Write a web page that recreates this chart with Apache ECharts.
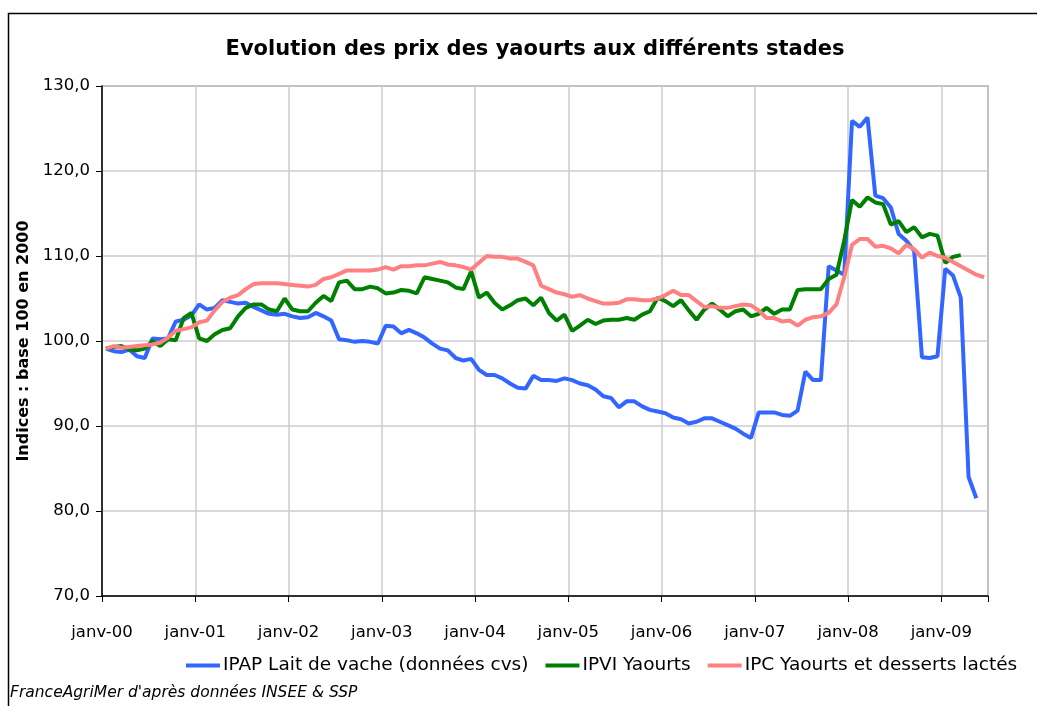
<!DOCTYPE html>
<html>
<head>
<meta charset="utf-8">
<script src="https://cdn.jsdelivr.net/npm/echarts@6/dist/echarts.min.js"></script>
<style>
  html, body { margin: 0; padding: 0; background: #fff; }
  #chart { width: 1037px; height: 706px; }
</style>
</head>
<body>
<div id="chart"></div>
<script>
// séries mensuelles, janv-00 = mois 0
var ipap = [99.1, 98.8, 98.7, 99.0, 98.2, 98.0, 100.3, 100.2, 100.3, 102.3, 102.5, 103.0,
  104.3, 103.7, 103.9, 104.8, 104.6, 104.4, 104.5, 104.0, 103.6, 103.2, 103.1, 103.2,
  102.9, 102.7, 102.8, 103.3, 102.9, 102.4, 100.2, 100.1, 99.9, 100.0, 99.9, 99.7,
  101.8, 101.7, 100.9, 101.3, 100.9, 100.4, 99.7, 99.1, 98.9, 98.0, 97.7, 97.9,
  96.6, 96.0, 96.0, 95.6, 95.0, 94.5, 94.4, 95.9, 95.4, 95.4, 95.3, 95.6,
  95.4, 95.0, 94.8, 94.3, 93.5, 93.3, 92.2, 92.9, 92.9, 92.3, 91.9, 91.7,
  91.5, 91.0, 90.8, 90.3, 90.5, 90.9, 90.9, 90.5, 90.1, 89.7, 89.1, 88.6,
  91.6, 91.6, 91.6, 91.3, 91.2, 91.8, 96.4, 95.4, 95.4, 108.8, 108.3, 107.8,
  125.9, 125.2, 126.3, 117.1, 116.8, 115.7, 112.6, 111.8, 110.6, 98.1, 98.0, 98.2,
  108.5, 107.7, 105.1, 84.0, 81.5];

var ipvi = [99.1, 99.3, 99.4, 99.0, 98.9, 99.1, 100.0, 99.4, 100.2, 100.1, 102.7, 103.3,
  100.3, 100.0, 100.8, 101.3, 101.5, 102.9, 103.9, 104.3, 104.3, 103.7, 103.5, 105.0,
  103.7, 103.5, 103.5, 104.5, 105.3, 104.7, 106.9, 107.1, 106.1, 106.1, 106.4, 106.2,
  105.6, 105.7, 106.0, 105.9, 105.6, 107.5, 107.3, 107.1, 106.9, 106.3, 106.1, 108.2,
  105.1, 105.7, 104.5, 103.7, 104.2, 104.8, 105.0, 104.2, 105.1, 103.3, 102.4, 103.1,
  101.2, 101.8, 102.5, 102.0, 102.4, 102.5, 102.5, 102.7, 102.5, 103.1, 103.5, 105.1,
  104.7, 104.1, 104.8, 103.6, 102.5, 103.7, 104.4, 103.7, 102.9, 103.5, 103.7, 102.9,
  103.2, 103.9, 103.2, 103.7, 103.7, 106.0, 106.1, 106.1, 106.1, 107.3, 107.8, 111.8,
  116.6, 115.8, 116.9, 116.3, 116.1, 113.7, 114.1, 112.8, 113.4, 112.2, 112.6, 112.4,
  109.2, 109.9, 110.1];

var ipc = [99.1, 99.4, 99.2, 99.3, 99.4, 99.5, 99.6, 99.8, 100.4, 101.2, 101.4, 101.6,
  102.2, 102.4, 103.6, 104.6, 105.1, 105.4, 106.1, 106.7, 106.8, 106.8, 106.8, 106.7,
  106.6, 106.5, 106.4, 106.6, 107.3, 107.5, 107.9, 108.3, 108.3, 108.3, 108.3, 108.4,
  108.7, 108.4, 108.8, 108.8, 108.9, 108.9, 109.1, 109.3, 109.0, 108.9, 108.7, 108.4,
  109.2, 110.0, 109.9, 109.9, 109.7, 109.7, 109.3, 108.9, 106.5, 106.1, 105.7, 105.5,
  105.2, 105.4, 105.0, 104.7, 104.4, 104.4, 104.5, 104.9, 104.9, 104.8, 104.8, 105.0,
  105.4, 105.9, 105.4, 105.4, 104.7, 104.0, 104.1, 103.9, 103.9, 104.1, 104.3, 104.2,
  103.6, 102.7, 102.7, 102.3, 102.4, 101.8, 102.5, 102.8, 102.9, 103.3, 104.3, 107.5,
  111.3, 112.0, 112.0, 111.1, 111.2, 110.9, 110.3, 111.3, 110.8, 109.8, 110.4, 110.0,
  109.8, 109.3, 108.8, 108.3, 107.8, 107.5];

var yearLabels = ['janv-00', 'janv-01', 'janv-02', 'janv-03', 'janv-04',
  'janv-05', 'janv-06', 'janv-07', 'janv-08', 'janv-09'];

// points au milieu du mois
function toPoints(arr) {
  return arr.map(function (v, i) { return [i + 0.5, v]; });
}

var chart = echarts.init(document.getElementById('chart'));
var font = '"DejaVu Sans", "Liberation Sans", Arial, sans-serif';

chart.setOption({
  animation: false,
  textStyle: { fontFamily: font },
  title: {
    text: 'Evolution des prix des yaourts aux différents stades',
    left: 530,
    top: 34,
    textAlign: 'center',
    textStyle: { fontFamily: font, fontSize: 21, fontWeight: 'bold', color: '#000' }
  },
  grid: {
    left: 102, right: 49, top: 86, bottom: 110,
    show: true, borderColor: '#888', borderWidth: 1.5
  },
  legend: {
    left: 181,
    top: 651,
    icon: 'rect',
    itemWidth: 34,
    itemHeight: 4,
    itemGap: 17,
    textStyle: { fontFamily: font, fontSize: 18.5, color: '#000', padding: [0, 0, 0, -2] },
    data: ['IPAP Lait de vache (données cvs)', 'IPVI Yaourts', 'IPC Yaourts et desserts lactés']
  },
  xAxis: {
    type: 'value',
    min: 0,
    max: 114,
    interval: 12,
    axisLine: { lineStyle: { color: '#000', width: 1.5 } },
    axisTick: { show: true, length: 6, lineStyle: { color: '#000' } },
    axisLabel: {
      margin: 28,
      fontSize: 16.5,
      color: '#000',
      formatter: function (v) {
        return v % 12 === 0 ? yearLabels[v / 12] : '';
      }
    },
    splitLine: { show: true, lineStyle: { color: '#ccc', width: 1.5 } }
  },
  yAxis: {
    type: 'value',
    min: 70,
    max: 130,
    interval: 10,
    name: 'Indices : base 100 en 2000',
    nameLocation: 'middle',
    nameGap: 70,
    nameTextStyle: { fontFamily: font, fontSize: 16, fontWeight: 'bold', color: '#000' },
    axisLine: { show: true, lineStyle: { color: '#000', width: 1.5 } },
    axisTick: { show: true, length: 6, lineStyle: { color: '#000' } },
    axisLabel: {
      margin: 12,
      fontSize: 16.5,
      color: '#000',
      formatter: function (v) { return v.toFixed(1).replace('.', ','); }
    },
    splitLine: { show: true, lineStyle: { color: '#ccc', width: 1.5 } }
  },
  graphic: [
    {
      type: 'rect',
      shape: { x: 8.5, y: 13.5, width: 1200, height: 900 },
      style: { fill: 'none', stroke: '#000', lineWidth: 1.5 },
      silent: true
    },
    {
      type: 'text',
      left: 10,
      top: 685,
      style: {
        text: "FranceAgriMer d'après données INSEE & SSP",
        font: 'italic 15.5px "DejaVu Sans", "Liberation Sans", Arial, sans-serif',
        fill: '#000'
      }
    }
  ],
  series: [
    {
      name: 'IPAP Lait de vache (données cvs)',
      type: 'line',
      showSymbol: false,
      color: '#3366ff',
      lineStyle: { width: 4 },
      data: toPoints(ipap)
    },
    {
      name: 'IPVI Yaourts',
      type: 'line',
      showSymbol: false,
      color: '#008000',
      lineStyle: { width: 4 },
      data: toPoints(ipvi)
    },
    {
      name: 'IPC Yaourts et desserts lactés',
      type: 'line',
      showSymbol: false,
      color: '#ff8080',
      lineStyle: { width: 4 },
      data: toPoints(ipc)
    }
  ]
});
</script>
</body>
</html>
